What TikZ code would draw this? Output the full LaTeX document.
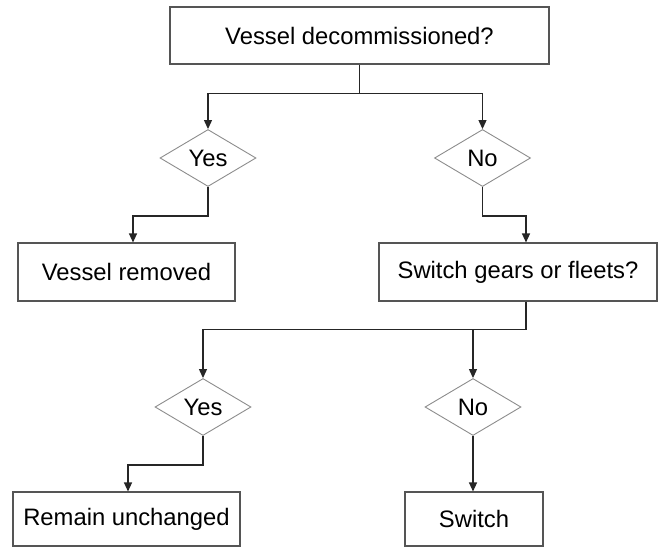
\documentclass[tikz,border=0pt]{standalone}
\usepackage{fontspec}
\setmainfont{Liberation Sans}
\usepackage{xcolor}
\usepackage{tikz}
\usetikzlibrary{shapes.geometric,arrows.meta}
\definecolor{boxline}{HTML}{555555}
\definecolor{choiceline}{HTML}{8C8C8C}
\makeatletter
\renewcommand\large{%
  \@setfontsize\large{23.8pt}{28pt}%
}
\makeatother

\begin{document}
\begin{tikzpicture}[x=1pt, y=-1pt, every node/.style={font=\large, inner sep=0pt},
  box/.style={draw=boxline, line width=1.1pt},
  choice/.style={draw=choiceline, line width=0.9pt, shape=diamond, aspect=1.68, minimum width=96pt, minimum height=57pt},
  wire/.style={line width=1.2pt, black!85},
  linkarrow/.style={-{Triangle[length=9pt,width=8pt]}}]
  \useasboundingbox (0,0) rectangle (659,549);
  % questions and outcomes
  \node[box, minimum width=379pt, minimum height=57pt] (decom) at (359.5,35.5) {Vessel decommissioned?};
  \node[box, minimum width=217pt, minimum height=58pt] (removed) at (126.5,272) {Vessel removed};
  \node[box, minimum width=278pt, minimum height=58pt] (gears) at (518,272) {Switch gears or fleets?};
  \node[box, minimum width=227pt, minimum height=54pt] (remain) at (126.5,519) {Remain unchanged};
  \node[box, minimum width=138pt, minimum height=54pt] (switch) at (474,519) {Switch};
  % answers
  \node[choice] (yes1) at (208,158) {Yes};
  \node[choice] (no1) at (482.5,158) {No};
  \node[choice] (yes2) at (203,407) {Yes};
  \node[choice] (no2) at (473,407) {No};
  % first question
  \draw[wire] (decom.south) -- ++(0,29) coordinate (fork1);
  \draw[wire, linkarrow] (fork1) -| (yes1.north);
  \draw[wire, linkarrow] (fork1) -| (no1.north);
  \draw[wire, linkarrow] (yes1.south) -- ++(0,29) -| ([xshift=6.5pt]removed.north);
  \draw[wire, linkarrow] (no1.south) -- ++(0,29) -| ([xshift=8pt]gears.north);
  % second question
  \draw[wire] ([xshift=8pt]gears.south) -- ++(0,28) coordinate (fork2);
  \draw[wire, linkarrow] (fork2) -| (yes2.north);
  \draw[wire, linkarrow] (fork2) -| (no2.north);
  \draw[wire, linkarrow] (yes2.south) -- ++(0,29) -| ([xshift=1.5pt]remain.north);
  \draw[wire, linkarrow] (no2.south) -- (no2.south |- switch.north);
\end{tikzpicture}
\end{document}
